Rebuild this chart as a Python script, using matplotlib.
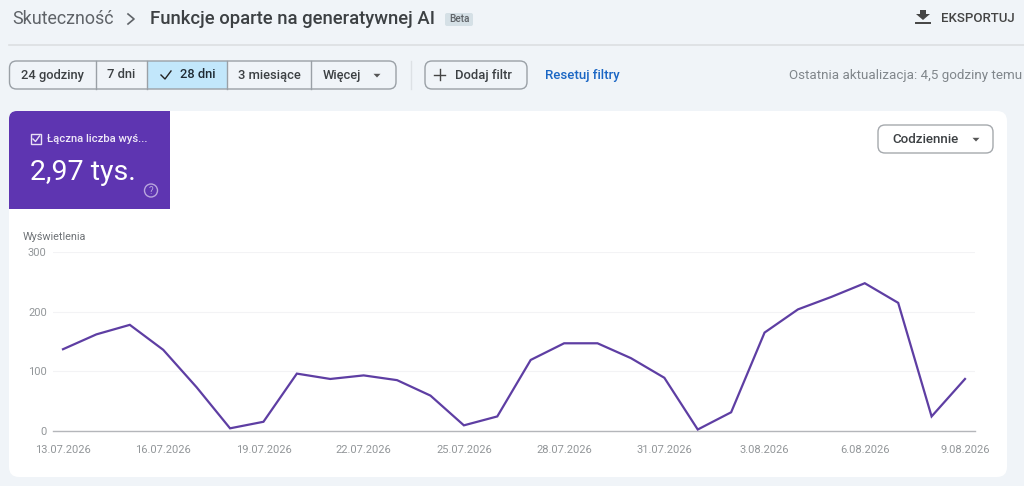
import pandas as pd
import matplotlib
matplotlib.use('Agg')
import matplotlib.pyplot as plt
import matplotlib.dates as mdates
from matplotlib.patches import FancyBboxPatch, Rectangle, Circle, Polygon

plt.rcParams['font.family'] = ['Roboto', 'DejaVu Sans']

W, H = 1024, 486
BG = '#f0f4f8'
PURPLE = '#5e35b1'
LINE = '#5e3ea3'

# data
dates = pd.date_range('2026-07-13', periods=28)
impressions = [137, 162, 178, 136, 73, 4, 15, 96, 87, 93, 85, 59, 9, 24,
               119, 147, 147, 122, 89, 2, 31, 165, 204, 225, 248, 215, 24, 87]
y_ticks = [0, 100, 200, 300]
y_title = 'Wyświetlenia'
range_labels = ['24 godziny', '7 dni', '28 dni', '3 miesiące', 'Więcej']
range_edges = [9, 96, 147, 227, 311, 396]

fig = plt.figure(figsize=(W / 100, H / 100), dpi=100, facecolor=BG)

# page chrome, drawn in pixel coordinates
ui = fig.add_axes([0, 0, 1, 1], zorder=0)
ui.set_xlim(0, W)
ui.set_ylim(H, 0)
ui.axis('off')


def box(x0, y0, x1, y1, r, fc, ec='none', lw=1, zorder=1):
    p = FancyBboxPatch((x0 + r, y0 + r), x1 - x0 - 2 * r, y1 - y0 - 2 * r,
                       boxstyle='round,pad=%f,rounding_size=%f' % (r, r),
                       fc=fc, ec=ec, lw=lw, zorder=zorder)
    ui.add_patch(p)


def label(x, y, s, size, color='#3c4043', ha='left', weight='normal', zorder=5):
    ui.text(x, y, s, fontsize=size, color=color, ha=ha, va='center',
            weight=weight, zorder=zorder)


def caret(x, y, color='#555555', size=3.5):
    ui.add_patch(Polygon([(x - size, y - 1.7), (x + size, y - 1.7), (x, y + 2)],
                         fc=color, ec='none', zorder=5))


# header
label(12, 19.5, 'Skuteczność', 12.9, '#5f6368')
ui.plot([128, 134, 128], [14, 19, 24], color='#5f6368', lw=1.2)
label(150, 19.5, 'Funkcje oparte na generatywnej AI', 13.3, '#3c4043', weight='medium')
box(445, 13, 473, 26, 2, '#d5e0e6')
label(459, 19, 'Beta', 7.2, '#5f6368', ha='center', weight='medium')
ui.add_patch(Polygon([(920, 10), (926, 10), (926, 14), (930, 14), (923, 20), (916, 14), (920, 14)],
                     fc='#444444', ec='none'))
ui.plot([916, 930], [23.5, 23.5], color='#444444', lw=1.4)
label(941, 18, 'EKSPORTUJ', 9.5, '#444444', weight='medium')
ui.plot([9, 1024], [45.5, 45.5], color='#dcdfe2', lw=1.2)

# date range buttons
box(9.5, 61, 396, 89, 7, 'none', ec='#9aa0a6', lw=1, zorder=3)
ui.add_patch(Rectangle((147, 61), 80, 28, fc='#c2e7fb', ec='none', zorder=2))
for x in range_edges[1:-1]:
    ui.plot([x, x], [61, 89], color='#9aa0a6', lw=1, zorder=3)
label(52.5, 75, range_labels[0], 9.3, ha='center', weight='medium')
label(121.5, 75, range_labels[1], 9.3, ha='center', weight='medium')
ui.plot([161, 165, 171], [75, 79, 71], color='#222222', lw=1, zorder=5)
label(198, 75, range_labels[2], 9.3, '#1f2a33', ha='center', weight='medium')
label(269, 75, range_labels[3], 9.3, ha='center', weight='medium')
label(341.5, 75, range_labels[4], 9.3, ha='center', weight='medium')
caret(377, 75.5)

ui.plot([411, 411], [61, 89], color='#dde1e5', lw=1)
box(425, 61, 527, 89, 7, 'none', ec='#9aa0a6', lw=1)
ui.plot([434, 445], [75, 75], color='#444444', lw=1)
ui.plot([439.5, 439.5], [69.5, 80.5], color='#444444', lw=1)
label(455, 75, 'Dodaj filtr', 9.4, weight='medium')
label(545, 75, 'Resetuj filtry', 9.5, '#1a66c4', weight='medium')
label(1022, 75, 'Ostatnia aktualizacja: 4,5 godziny temu', 9.6, '#80868b', ha='right')

# white card with the purple metric tile
box(9, 111, 1007, 477, 10, 'white', zorder=1)
tile = FancyBboxPatch((17, 119), 145, 82, boxstyle='round,pad=8,rounding_size=8',
                      fc=PURPLE, ec='none', zorder=2)
ui.add_patch(tile)
ui.add_patch(Rectangle((9, 130), 161, 79, fc=PURPLE, ec='none', zorder=2))
ui.add_patch(Rectangle((100, 111), 70, 40, fc=PURPLE, ec='none', zorder=2))
ui.add_patch(Rectangle((31, 134), 10, 10, fc='none', ec='#e8e0f5', lw=1, zorder=4))
ui.plot([33, 35.5, 39.5], [139, 141.5, 136], color='#e8e0f5', lw=1, zorder=5)
label(47, 139, 'Łączna liczba wyś...', 8.1, '#efe9f8', weight='medium')
label(30, 172, '2,97 tys.', 20.5, 'white')
ui.add_patch(Circle((151, 190.5), 6.5, fc='none', ec='#b9a6de', lw=1, zorder=4))
label(151, 190.5, '?', 7, '#b9a6de', ha='center')

box(878, 125, 993, 153, 7, 'white', ec='#a5a9ad', lw=1, zorder=3)
label(925.5, 139, 'Codziennie', 9.6, ha='center', weight='medium')
caret(976, 139.5)

# the chart itself
left, right, top, bottom = 53, 975, 252.3, 430.7
ax = fig.add_axes([left / W, 1 - bottom / H, (right - left) / W, (bottom - top) / H], zorder=1)
ax.patch.set_alpha(0)
x0 = mdates.date2num(dates[0])
day_px = (965 - 63) / 27
ax.set_xlim(x0 - (63 - left) / day_px, x0 + (right - 63) / day_px)
ax.set_ylim(0, 300)
ax.plot(dates, impressions, color=LINE, lw=1.6, clip_on=False, zorder=3,
        solid_joinstyle='miter')
ax.set_yticks(y_ticks)
ax.set_xticks(dates[::3])
ax.set_xticklabels(['%d.%02d.%d' % (d.day, d.month, d.year) for d in dates[::3]])
ax.tick_params(axis='both', length=0, labelsize=8, labelcolor='#929699')
ax.tick_params(axis='x', pad=10)
ax.tick_params(axis='y', pad=4.5)
ax.grid(axis='y', color='#f3f3f5', lw=0.8)
ax.set_axisbelow(True)
for side in ['top', 'right', 'left']:
    ax.spines[side].set_visible(False)
ax.spines['bottom'].set_color('#b4b6ba')
ax.spines['bottom'].set_linewidth(1)
label(23, 237, y_title, 7.8, '#6f7377')

fig.savefig('out.png', dpi=100, facecolor=BG)
